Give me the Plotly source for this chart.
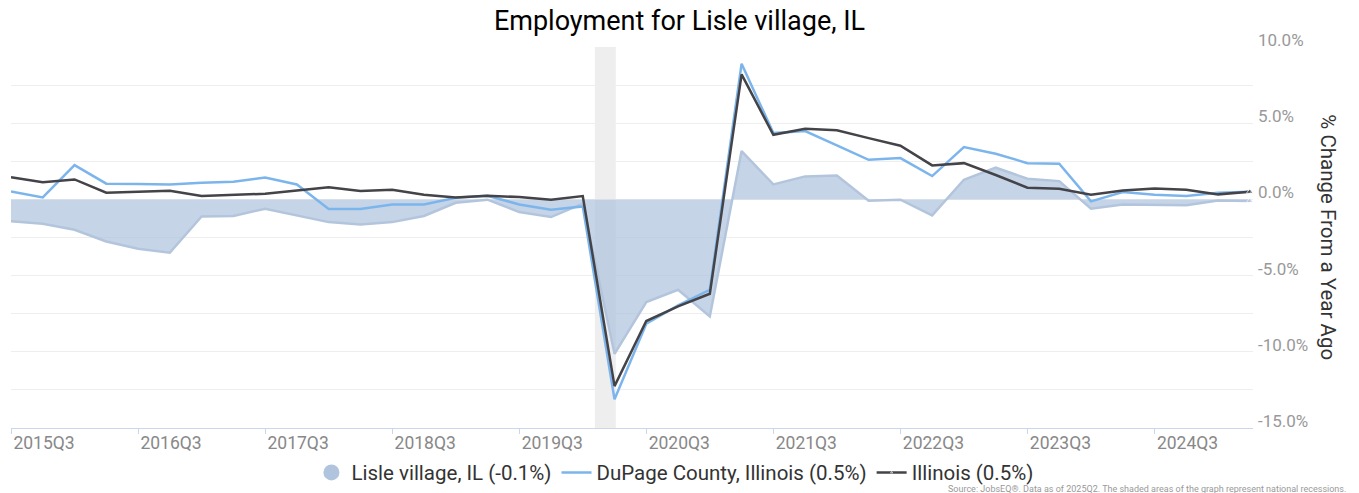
import plotly.graph_objects as go

quarters = ["2015Q3", "2015Q4", "2016Q1", "2016Q2", "2016Q3", "2016Q4", "2017Q1", "2017Q2",
            "2017Q3", "2017Q4", "2018Q1", "2018Q2", "2018Q3", "2018Q4", "2019Q1", "2019Q2",
            "2019Q3", "2019Q4", "2020Q1", "2020Q2", "2020Q3", "2020Q4", "2021Q1", "2021Q2",
            "2021Q3", "2021Q4", "2022Q1", "2022Q2", "2022Q3", "2022Q4", "2023Q1", "2023Q2",
            "2023Q3", "2023Q4", "2024Q1", "2024Q2", "2024Q3", "2024Q4", "2025Q1", "2025Q2"]

lisle = [-1.44, -1.60, -1.99, -2.76, -3.24, -3.50, -1.12, -1.09, -0.61, -1.07,
         -1.49, -1.64, -1.49, -1.09, -0.22, -0.02, -0.83, -1.16, -0.28, -10.13,
         -6.74, -5.93, -7.68, 3.17, 0.98, 1.51, 1.57, -0.09, -0.02, -1.05,
         1.29, 2.08, 1.36, 1.20, -0.61, -0.33, -0.37, -0.39, -0.07, -0.10]

dupage = [0.52, 0.13, 2.25, 1.03, 1.01, 0.98, 1.09, 1.16, 1.44, 0.98,
          -0.63, -0.63, -0.33, -0.33, 0.11, 0.24, -0.33, -0.68, -0.46, -13.12,
          -8.16, -6.96, -5.93, 8.90, 4.35, 4.48, 3.54, 2.60, 2.71, 1.53,
          3.43, 3.00, 2.38, 2.34, -0.13, 0.48, 0.31, 0.22, 0.44, 0.50]

illinois = [1.46, 1.12, 1.31, 0.44, 0.50, 0.57, 0.22, 0.28, 0.37, 0.59,
            0.79, 0.55, 0.63, 0.31, 0.13, 0.24, 0.15, -0.02, 0.22, -12.25,
            -7.98, -7.02, -6.19, 8.20, 4.24, 4.63, 4.53, 4.02, 3.52, 2.23,
            2.38, 1.60, 0.77, 0.70, 0.31, 0.59, 0.72, 0.63, 0.33, 0.50]

x_tick_labels = ["2015Q3", "2016Q3", "2017Q3", "2018Q3", "2019Q3",
                 "2020Q3", "2021Q3", "2022Q3", "2023Q3", "2024Q3"]
y_tick_values = [-15, -10, -5, 0, 5, 10]
y_tick_text = ["-15.0%", "-10.0%", "-5.0%", "0.0%", "5.0%", "10.0%"]

# national recession span, in quarter-index units (2020Q1 = 18)
recession_span = [18.38, 19.04]

series_names = ["Lisle village, IL (-0.1%)", "DuPage County, Illinois (0.5%)", "Illinois (0.5%)"]

FONT = "Roboto, Arial, sans-serif"
LISLE_LINE = "#b3c5dc"
LISLE_FILL = "rgba(176,196,222,0.72)"
DUPAGE = "#7cb5ec"
IL = "#434348"

n = len(quarters)
end_marker = [0] * (n - 1) + [6]

fig = go.Figure()

# legend-only entry for Lisle (circle symbol)
fig.add_trace(go.Scatter(x=[None], y=[None], mode="markers", name=series_names[0],
                         marker=dict(symbol="circle", size=20, color="#b0c4de"),
                         showlegend=True, hoverinfo="skip"))

fig.add_trace(go.Scatter(x=quarters, y=lisle, mode="lines+markers", name=series_names[0],
                         fill="tozeroy", fillcolor=LISLE_FILL,
                         line=dict(color=LISLE_LINE, width=2.5),
                         marker=dict(size=end_marker, symbol="triangle-up", color=LISLE_LINE),
                         showlegend=False))

fig.add_trace(go.Scatter(x=quarters, y=dupage, mode="lines", name=series_names[1],
                         line=dict(color=DUPAGE, width=2.5)))

fig.add_trace(go.Scatter(x=quarters, y=illinois, mode="lines+markers", name=series_names[2],
                         line=dict(color=IL, width=2.5),
                         marker=dict(size=end_marker, symbol="triangle-up", color=IL)))

fig.add_shape(type="rect", xref="x", yref="paper",
              x0=recession_span[0], x1=recession_span[1], y0=0, y1=1,
              fillcolor="#eeeeee", line=dict(width=0), layer="below")

fig.update_layout(
    width=1359, height=493,
    margin=dict(l=11, r=106, t=47, b=65, autoexpand=False),
    paper_bgcolor="white", plot_bgcolor="white",
    font=dict(family=FONT, color="#333333"),
    title=dict(text="Employment for Lisle village, IL", x=0.5, xanchor="center",
               y=0.958, yanchor="middle",
               font=dict(family=FONT, size=27, color="#000000")),
    showlegend=True,
    legend=dict(orientation="h", xref="container", x=0.497, xanchor="center",
                y=-0.117, yanchor="middle",
                font=dict(family=FONT, size=20.5, color="#333333"),
                itemwidth=30, tracegroupgap=0, bgcolor="rgba(0,0,0,0)"),
    xaxis=dict(
        type="category", automargin=False,
        range=[0, n - 0.9],
        tickmode="array", tickvals=x_tick_labels, ticktext=x_tick_labels,
        showgrid=False, zeroline=False,
        showline=True, linecolor="#ccd6eb", linewidth=1,
        ticks="outside", ticklen=5, tickcolor="#ccd6eb",
        tickfont=dict(family=FONT, size=17.5, color="#888888"),
        ticklabelshift=33, ticklabelstandoff=-6,
    ),
    yaxis=dict(
        side="right", automargin=False,
        range=[-15, 10],
        tickmode="array", tickvals=y_tick_values, ticktext=y_tick_text,
        showgrid=True, gridcolor="#eeeeee", gridwidth=1,
        minor=dict(dtick=2.5, tick0=0, showgrid=True, gridcolor="#eeeeee", gridwidth=1),
        zeroline=False, showline=False, ticks="",
        tickfont=dict(family=FONT, size=17, color="#999999"),
        ticklabelshift=-7, ticklabelstandoff=4,
    ),
    annotations=[
        dict(text="% Change From a Year Ago", textangle=90, xref="paper", yref="paper",
             x=1.0605, y=0.5, xanchor="center", yanchor="middle", showarrow=False,
             font=dict(family=FONT, size=20.5, color="#333333")),
        dict(text="Source: JobsEQ®. Data as of 2025Q2. The shaded areas of the graph represent national recessions.",
             xref="paper", yref="paper", x=1.0765, y=-0.16, xanchor="right", yanchor="middle",
             showarrow=False, font=dict(family=FONT, size=9, color="#999999")),
    ],
)

fig.write_html("out.html", config={"displayModeBar": False},
               post_script="document.body.style.margin='0';document.body.style.overflow='hidden';")
